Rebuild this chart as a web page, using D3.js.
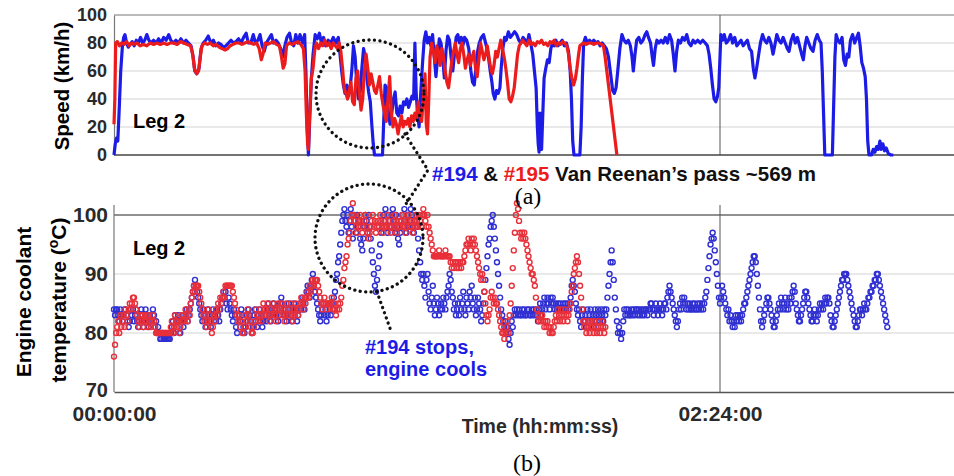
<!DOCTYPE html>
<html>
<head>
<meta charset="utf-8">
<script src="https://cdn.jsdelivr.net/npm/d3@7"></script>
<style>
  body { margin: 0; background: #fff; }
  svg { display: block; font-family: "Liberation Sans", Arial, sans-serif; }
</style>
</head>
<body>
<svg id="chart"></svg>
<script>
// ---- data (time in minutes from 00:00:00) ----
var speedTicks = [0, 20, 40, 60, 80, 100];
var tempTicks = [70, 80, 90, 100];
var timeTicks = [0, 144];
var timeTickLabels = ["00:00:00", "02:24:00"];

// speed of truck #194 (blue) and #195 (red): [minute, km/h]
var blueSpeed = [[0,0],[0.3,8],[0.6,12],[0.9,10],[1.2,30],[1.6,60],[2.0,78],[2.3,84],[2.6,86],[3.0,80],[3.4,77],[3.8,79],[4.3,81],[4.8,78],[5.3,82],[5.8,80],[6.3,84],[6.8,80],[7.3,82],[7.8,86],[8.3,82],[8.8,80],[9.4,82],[10,80],[10.6,83],[11.2,80],[11.8,84],[12.4,82],[13.0,86],[13.5,82],[14.1,80],[14.7,82],[15.3,80],[15.9,83],[16.5,80],[17.1,82],[17.7,80],[18.3,78],[18.8,70],[19.2,60],[19.7,58],[20.2,62],[20.7,76],[21.2,80],[21.8,82],[22.4,85],[23.0,80],[23.6,82],[24.2,78],[24.8,80],[25.4,79],[26.0,77],[26.6,78],[27.2,80],[27.8,82],[28.4,80],[29.0,81],[29.6,83],[30.2,80],[30.8,84],[31.4,87],[31.9,80],[32.5,80],[33.1,86],[33.6,80],[34.2,82],[34.7,86],[35.2,78],[35.7,74],[36.2,80],[36.8,83],[37.4,86],[37.9,80],[38.5,82],[39.0,80],[39.6,76],[40.1,70],[40.6,78],[41.1,84],[41.7,87],[42.2,80],[42.7,78],[43.2,86],[43.7,80],[44.2,86],[44.8,80],[45.3,86],[45.6,60],[45.9,20],[46.2,0],[46.5,25],[46.9,55],[47.3,72],[47.8,86],[48.3,83],[48.8,87],[49.3,80],[49.8,84],[50.3,78],[50.9,82],[51.5,80],[52.1,84],[52.7,80],[53.3,84],
  [53.7,72],[54.1,60],[54.5,50],[54.9,44],[55.3,50],[55.7,42],[56.1,48],[56.5,60],[56.9,78],[57.3,70],[57.7,50],[58.1,40],[58.5,45],[58.9,62],[59.3,76],[59.7,70],[60.1,55],[60.5,45],[60.9,38],[61.3,20],[61.6,8],[61.9,0],[62.5,0],[63.2,0],[63.8,0],[64.1,25],[64.4,50],[64.8,48],[65.2,30],[65.6,22],[66.0,30],[66.4,40],[66.8,45],[67.2,30],[67.6,28],[68.0,35],[68.4,30],[68.8,38],[69.2,36],[69.6,40],[70.0,34],[70.4,38],[70.8,42],[71.2,40],[71.5,80],[71.8,45],[72.1,30],[72.5,20],[72.9,45],[73.3,65],[73.7,82],[74.1,88],[74.5,80],[74.9,84],[75.3,78],[75.7,86],[76.1,70],[76.5,56],[76.9,70],[77.3,83],[77.7,80],[78.1,70],[78.5,55],[78.9,75],[79.3,85],[79.7,82],[80.1,70],[80.5,60],[80.9,72],[81.3,84],[81.7,86],[82.1,80],[82.5,84],[82.9,78],[83.3,84],[83.8,82],[84.3,76],[84.8,60],[85.2,52],[85.6,50],[86.0,62],[86.4,74],[86.8,80],[87.3,84],[87.8,86],[88.3,80],[88.8,74],[89.4,60],[89.8,52],[90.1,44],[90.5,40],[90.9,46],[91.3,44],[91.7,48],[92.0,62],[92.4,76],[92.8,84],[93.2,82],[93.7,88],[94.2,84],[94.7,86],[95.2,88],[95.7,86],[96.2,82],[96.7,80],[97.2,84],[97.7,82],[98.2,80],[98.6,86],[99.0,80],[99.5,72],[99.9,60],[100.3,48],[100.6,20],[100.8,8],[101.0,2],[101.2,30],[101.4,10],[101.6,4],[101.9,30],[102.2,55],[102.6,62],[103.0,68],[103.4,66],[103.8,76],[104.2,80],[104.6,78],[105.0,82],[105.5,78],[106.0,80],[106.5,82],[107.0,78],[107.5,80],[108.0,74],[108.4,60],[108.7,40],[109.0,10],[109.3,0],[110.0,0],[110.7,0],[111.0,20],[111.3,55],[111.6,80],[112.0,84],[112.5,80],[113.0,82],[113.5,80],[114.0,82],[114.5,80],[115.0,81],[115.5,78],[116.0,80],[116.5,78],[117.0,76],[117.5,70],[118.0,58],[118.5,46],[118.9,44],[119.3,48],[119.7,60],[120.2,76],[120.7,86],[121.2,82],[121.7,80],[122.2,82],[122.7,78],[123.1,70],[123.4,60],[123.8,72],[124.2,82],[124.7,84],[125.2,80],[125.7,82],[126.2,86],[126.6,88],[127.0,84],[127.5,80],[127.9,70],[128.2,64],[128.6,76],[129.0,82],[129.5,80],[130.0,82],[130.5,80],[131.0,84],[131.5,80],[132.0,86],[132.5,82],[132.9,72],[133.3,60],[133.7,74],[134.1,82],[134.6,80],[135.1,84],[135.6,82],[136.1,86],[136.6,80],[137.1,78],[137.6,82],[138.1,80],[138.7,82],[139.3,80],[139.9,82],[140.5,80],[141.0,78],[141.4,72],[141.8,62],[142.2,50],[142.6,40],[143.0,38],[143.4,42],[143.7,48],[144.0,70],[144.2,86],[144.6,82],[145.0,86],[145.5,80],[146.0,82],[146.5,86],[147.0,80],[147.5,84],[148.0,78],[148.5,80],[149.0,82],[149.5,78],[150.0,80],[150.5,82],[151.0,76],[151.5,74],[151.9,62],[152.3,55],[152.7,62],[153.1,70],[153.6,80],[154.1,86],[154.6,82],[155.1,80],[155.6,84],[156.1,80],[156.6,72],[157.0,78],[157.5,86],[158.0,82],[158.5,80],[159.0,84],[159.5,80],[160.0,76],[160.4,74],[160.9,82],[161.4,86],[161.9,80],[162.4,84],[162.9,78],[163.4,72],[163.8,68],[164.2,78],[164.6,84],[165.1,80],[165.6,76],[166.1,74],[166.6,82],[167.1,86],[167.6,82],[168.0,80],[168.3,60],[168.6,30],[168.9,0],[169.5,0],[170.2,0],[170.7,0],[171.0,35],[171.3,70],[171.6,86],[172.0,82],[172.5,80],[173.0,84],[173.4,68],[173.8,64],[174.2,72],[174.6,70],[175.0,82],[175.5,86],[176.0,80],[176.5,84],[176.9,87],[177.3,78],[177.7,66],[178.1,62],[178.5,56],[178.8,40],[179.1,10],[179.4,0],[180.0,0],[180.4,4],[180.8,2],[181.2,6],[181.6,4],[182.0,10],[182.3,4],[182.7,8],[183.1,3],[183.5,5],[184.0,1],[184.6,0],[185.2,0]];

var redSpeed = [[0,22],[0.2,40],[0.4,80],[0.8,81],[1.3,78],[1.8,80],[2.4,79],[3.0,81],[3.6,78],[4.2,80],[4.8,79],[5.5,80],[6.2,78],[7.0,79],[7.8,78],[8.6,80],[9.4,79],[10.2,80],[11.0,79],[11.8,80],[12.6,79],[13.4,80],[14.2,80],[15.0,79],[15.8,81],[16.6,80],[17.4,79],[18.2,78],[18.7,72],[19.1,62],[19.6,58],[20.1,60],[20.5,70],[20.9,78],[21.5,80],[22.2,79],[22.9,80],[23.6,78],[24.3,79],[25.0,77],[25.7,76],[26.4,75],[27.0,76],[27.6,78],[28.3,79],[29.0,80],[29.7,80],[30.4,79],[31.1,80],[31.8,81],[32.5,80],[33.2,79],[33.9,80],[34.5,76],[35.0,68],[35.4,72],[35.9,80],[36.5,79],[37.2,80],[37.9,81],[38.6,79],[39.3,78],[39.8,70],[40.2,62],[40.6,65],[41.0,78],[41.6,80],[42.3,79],[43.0,80],[43.7,81],[44.4,79],[45.0,76],[45.4,60],[45.7,30],[46.0,8],[46.2,4],[46.5,30],[46.9,55],[47.3,62],[47.7,75],[48.1,80],[48.6,76],[49.1,80],[49.6,78],[50.1,82],[50.6,78],[51.1,80],[51.6,76],[52.1,80],[52.6,78],[53.1,76],[53.5,80],[53.9,74],[54.3,62],[54.7,48],[55.1,44],[55.5,40],[55.9,46],[56.3,52],[56.7,38],[57.1,36],[57.5,55],[57.9,60],[58.3,45],[58.7,32],[59.1,40],[59.5,60],[59.9,72],[60.3,62],[60.7,50],[61.1,58],[61.5,52],[61.9,46],[62.3,44],[62.7,50],[63.1,56],[63.5,44],[63.9,36],[64.3,30],[64.7,24],[65.1,40],[65.5,56],[65.9,30],[66.3,20],[66.7,26],[67.1,22],[67.5,15],[67.9,22],[68.3,28],[68.7,20],[69.1,24],[69.5,22],[69.9,26],[70.3,20],[70.7,28],[71.1,24],[71.5,30],[71.9,26],[72.3,38],[72.7,28],[73.1,24],[73.5,40],[73.9,58],[74.2,22],[74.5,15],[74.8,40],[75.1,70],[75.5,80],[75.9,74],[76.3,66],[76.7,78],[77.1,72],[77.5,64],[77.9,76],[78.3,70],[78.7,60],[79.1,52],[79.5,48],[79.9,58],[80.3,68],[80.7,74],[81.1,80],[81.5,72],[81.9,66],[82.3,76],[82.7,80],[83.1,72],[83.5,62],[83.9,68],[84.3,72],[84.7,64],[85.1,70],[85.5,74],[85.9,62],[86.3,56],[86.7,68],[87.1,80],[87.5,74],[87.9,68],[88.3,72],[88.7,78],[89.1,70],[89.5,62],[89.9,58],[90.3,64],[90.7,74],[91.1,70],[91.5,76],[91.9,82],[92.3,76],[92.7,70],[93.1,62],[93.5,52],[93.9,40],[94.3,38],[94.7,42],[95.1,48],[95.5,60],[95.9,72],[96.3,78],[96.7,80],[97.1,82],[97.6,80],[98.1,78],[98.6,82],[99.1,79],[99.6,80],[100.1,78],[100.6,81],[101.1,80],[101.6,82],[102.1,79],[102.6,80],[103.1,78],[103.6,81],[104.1,80],[104.6,82],[105.1,78],[105.6,80],[106.1,79],[106.6,81],[107.1,80],[107.6,78],[108.0,72],[108.4,62],[108.8,55],[109.2,50],[109.6,54],[110.0,62],[110.4,72],[110.7,78],[111.1,79],[111.6,80],[112.2,79],[112.8,80],[113.4,80],[114.0,79],[114.6,80],[115.2,80],[115.8,79],[116.3,78],[116.7,70],[117.1,60],[117.5,50],[117.9,40],[118.3,30],[118.7,20],[119.1,10],[119.5,0]];

// engine coolant temperature (deg C), one reading every 0.25 min
var tempStepMin = 0.25;
var blueTemp = [
  84,83,84,84,83,82,84,83,82,83,84,84,83,82,81,82,84,83,84,82,83,84,82,81,
  82,83,84,83,81,82,84,83,82,81,83,82,82,84,83,81,82,80,81,80,79,79,80,79,
  79,79,79,79,79,79,80,81,82,80,83,82,81,83,82,80,82,83,81,82,83,84,82,83,
  84,85,86,87,88,89,88,87,86,85,84,83,82,84,83,81,82,84,83,82,81,83,84,82,
  83,82,84,83,82,84,85,86,87,86,87,85,84,86,85,84,83,82,84,83,81,80,82,83,
  82,84,83,81,80,81,83,82,84,83,82,80,81,83,84,82,81,83,84,82,83,81,82,84,
  83,82,84,85,83,82,84,83,85,84,83,84,82,83,85,86,85,84,83,84,82,83,85,84,
  83,82,84,85,83,84,82,83,84,85,84,86,85,84,86,87,88,87,86,88,89,90,88,87,
  86,85,84,83,82,83,84,85,83,84,82,83,85,84,83,85,84,86,87,89,90,92,93,95,
  97,99,100,101,99,98,100,97,99,101,98,96,100,99,97,100,98,99,96,95,94,96,98,100,
  99,97,100,98,96,94,92,90,88,87,89,91,93,95,97,98,100,99,101,98,97,100,99,98,
  100,101,99,97,100,98,96,95,97,99,100,98,101,99,97,100,98,99,101,100,98,97,99,100,
  98,96,94,92,90,89,90,88,86,89,90,87,85,84,86,88,85,83,84,86,85,83,84,85,
  84,86,85,84,86,87,88,90,89,87,86,84,85,83,84,85,83,86,84,85,87,84,83,86,
  85,84,87,86,88,85,84,86,83,84,86,85,84,82,83,85,87,89,91,93,95,96,98,99,
  100,98,96,94,92,90,88,86,84,83,82,81,82,80,81,79,78,80,82,81,83,84,83,84,
  83,84,83,83,84,83,84,83,83,84,84,83,83,84,83,84,83,84,83,82,84,85,83,84,
  85,86,84,85,86,85,84,86,85,86,85,84,85,84,85,84,85,84,84,85,84,85,84,85,
  84,85,86,88,89,88,87,85,84,83,84,82,81,83,84,82,83,81,84,82,83,84,82,83,
  81,84,83,82,84,83,82,84,83,82,84,83,84,86,88,90,92,94,92,89,86,84,82,80,
  81,80,79,80,82,84,83,84,83,84,83,83,84,83,84,83,84,84,83,84,83,84,83,84,
  83,84,84,83,84,84,85,85,84,83,84,85,84,83,84,85,84,83,84,85,85,84,86,87,
  88,87,86,85,84,83,82,81,82,84,85,84,86,85,86,85,84,85,84,85,84,84,85,84,
  85,84,84,85,84,85,84,85,84,85,86,87,89,91,93,95,96,97,96,94,92,90,88,86,
  85,86,88,87,86,85,84,83,84,82,83,82,81,82,81,83,82,83,82,83,82,83,84,85,
  85,86,87,88,89,90,91,92,93,93,92,90,88,86,84,82,81,82,83,84,85,86,86,85,
  84,83,82,81,81,82,83,84,85,84,86,85,84,85,86,84,85,84,86,85,86,87,88,87,
  85,84,83,82,82,83,84,85,86,87,87,86,85,84,83,82,82,83,84,83,82,83,84,85,
  84,85,84,85,86,85,86,86,85,83,82,81,81,82,83,84,85,86,87,88,89,89,90,90,
  90,89,88,87,86,85,84,83,82,81,81,82,83,84,84,83,84,85,84,84,85,86,86,87,
  87,88,88,89,89,90,90,89,88,87,86,85,84,83,82,81
];
var redTemp = [
  76,78,80,81,82,80,83,81,82,83,81,84,83,82,84,85,84,85,86,86,85,84,83,82,
  81,83,82,83,81,82,83,82,81,83,82,81,82,83,82,81,80,80,80,80,80,80,80,80,
  80,80,80,80,80,80,81,82,80,81,83,82,81,82,80,81,83,82,83,82,84,83,82,84,
  83,85,86,87,88,87,88,88,88,87,86,85,84,83,82,83,81,82,84,83,82,80,81,83,
  82,84,83,85,84,86,85,86,87,86,88,88,88,88,88,88,88,87,86,85,84,83,82,83,
  81,82,80,80,81,83,82,84,83,82,81,80,80,81,82,84,83,82,83,84,82,83,85,84,
  83,84,85,83,82,84,83,85,84,83,82,84,85,83,84,85,83,84,82,83,85,84,83,84,
  85,83,82,84,83,85,84,83,84,85,86,85,84,86,85,86,87,86,88,87,88,89,88,89,
  89,89,88,87,86,85,84,85,86,85,84,85,85,85,85,86,84,85,84,83,84,85,84,85,
  86,88,89,91,92,93,95,96,97,99,100,102,100,99,98,97,99,98,100,99,97,98,99,100,
  98,97,96,97,98,99,100,98,99,97,98,99,98,100,99,98,97,98,99,98,100,99,98,97,
  98,99,98,100,99,97,98,99,98,99,100,98,99,97,98,99,100,98,99,98,97,99,98,100,
  99,98,100,99,98,100,101,100,99,98,100,98,97,96,95,94,93,93,93,93,93,94,93,93,
  93,93,93,94,93,93,93,93,92,91,92,91,92,92,91,92,91,92,91,92,92,93,94,95,
  95,96,95,94,96,95,96,95,94,93,92,91,90,89,90,89,87,85,83,82,83,84,86,87,
  86,85,86,85,85,84,83,82,81,80,80,79,80,81,82,80,83,85,88,91,94,97,100,102,
  101,99,97,96,97,96,97,96,95,94,93,92,91,90,90,89,88,86,84,83,82,83,82,83,
  82,81,82,81,82,81,80,81,80,80,81,82,83,82,84,83,82,84,83,82,83,84,83,82,
  83,84,85,87,88,90,91,92,93,92,90,88,86,84,82,81,82,80,81,82,80,81,82,81,
  80,82,81,80,81,82,80,81,82,81,80,81
];

var blueColor = "#1c1ce6", redColor = "#ec1c1c";
var blueDot = "#2f2fd2", redDot = "#e8303a";

var svg = d3.select("#chart")
  .attr("width", 954)
  .attr("height", 476);

// scales shared by both panels
var x = d3.scaleLinear().domain([0, 199.6]).range([114, 954]);
var ySpeed = d3.scaleLinear().domain([0, 100]).range([155, 15]);
var yTemp = d3.scaleLinear().domain([70, 100]).range([392, 215]);

// ---------- (a) speed panel ----------
var gSpeed = svg.append("g");

gSpeed.selectAll(".grid")
  .data(speedTicks.filter(function(d) { return d > 0 && d < 100; }))
  .enter().append("line")
    .attr("x1", x(0)).attr("x2", 954)
    .attr("y1", function(d) { return ySpeed(d); })
    .attr("y2", function(d) { return ySpeed(d); })
    .attr("stroke", "#e2e2e2").attr("stroke-width", 1.5);

gSpeed.append("line")
  .attr("x1", x(0)).attr("x2", 954).attr("y1", ySpeed(100)).attr("y2", ySpeed(100))
  .attr("stroke", "#777").attr("stroke-width", 1.2);
gSpeed.append("line")
  .attr("x1", x(144)).attr("x2", x(144)).attr("y1", ySpeed(100)).attr("y2", ySpeed(0))
  .attr("stroke", "#555").attr("stroke-width", 1);

var ySpeedAxis = gSpeed.append("g")
  .attr("class", "axis-speed")
  .attr("transform", "translate(" + x(0) + ",0)")
  .call(d3.axisLeft(ySpeed).tickValues(speedTicks).tickSize(0).tickPadding(7));
ySpeedAxis.select(".domain").attr("stroke", "#777").attr("stroke-width", 1.2);

gSpeed.append("line")
  .attr("x1", x(0)).attr("x2", 954).attr("y1", ySpeed(0)).attr("y2", ySpeed(0))
  .attr("stroke", "#444").attr("stroke-width", 1.5);

var speedLine = d3.line()
  .x(function(d) { return x(d[0]); })
  .y(function(d) { return ySpeed(d[1]); });

gSpeed.append("path")
  .datum(blueSpeed)
  .attr("d", speedLine)
  .attr("fill", "none").attr("stroke", blueColor)
  .attr("stroke-width", 3.2).attr("stroke-linejoin", "round");
gSpeed.append("path")
  .datum(redSpeed)
  .attr("d", speedLine)
  .attr("fill", "none").attr("stroke", redColor)
  .attr("stroke-width", 3.2).attr("stroke-linejoin", "round");

// ---------- (b) temperature panel ----------
var gTemp = svg.append("g");

gTemp.selectAll(".grid")
  .data([80, 90])
  .enter().append("line")
    .attr("x1", x(0)).attr("x2", 954)
    .attr("y1", function(d) { return yTemp(d); })
    .attr("y2", function(d) { return yTemp(d); })
    .attr("stroke", "#e2e2e2").attr("stroke-width", 1.5);

gTemp.append("line")
  .attr("x1", x(0)).attr("x2", 954).attr("y1", yTemp(100)).attr("y2", yTemp(100))
  .attr("stroke", "#222").attr("stroke-width", 1.2);
gTemp.append("line")
  .attr("x1", x(144)).attr("x2", x(144)).attr("y1", yTemp(101.7)).attr("y2", yTemp(70))
  .attr("stroke", "#555").attr("stroke-width", 1);

var yTempAxis = gTemp.append("g")
  .attr("class", "axis-temp")
  .attr("transform", "translate(" + x(0) + ",0)")
  .call(d3.axisLeft(yTemp).tickValues(tempTicks).tickSize(0).tickPadding(6));
yTempAxis.select(".domain").remove();
gTemp.append("line")
  .attr("x1", x(0)).attr("x2", x(0)).attr("y1", yTemp(101.7)).attr("y2", yTemp(70))
  .attr("stroke", "#777").attr("stroke-width", 1.2);

var xAxis = gTemp.append("g")
  .attr("class", "axis-time")
  .attr("transform", "translate(0," + yTemp(70) + ")")
  .call(d3.axisBottom(x).tickValues(timeTicks).tickSize(0).tickPadding(14.5)
    .tickFormat(function(d, i) { return timeTickLabels[i]; }));
xAxis.select(".domain").attr("stroke", "#555").attr("stroke-width", 1.5);

// style tick labels
svg.selectAll(".tick text")
  .attr("fill", "#2a2a2a")
  .style("font-weight", "bold")
  .style("font-family", "'Liberation Sans', Arial, sans-serif");
ySpeedAxis.selectAll(".tick text").style("font-size", "18px");
yTempAxis.selectAll(".tick text").style("font-size", "21px");
// lowest label sits just above the time labels
yTempAxis.selectAll(".tick text").filter(function(d) { return d === 70; })
  .attr("dy", "0.2em").style("font-size", "20px");
xAxis.selectAll(".tick text").style("font-size", "21px");

function drawTemps(values, color) {
  gTemp.append("g").selectAll("circle")
    .data(values)
    .enter().append("circle")
      .attr("cx", function(d, i) { return x(i * tempStepMin); })
      .attr("cy", function(d) { return yTemp(d); })
      .attr("r", 2.5)
      .attr("fill", "none")
      .attr("stroke", color)
      .attr("stroke-width", 1.4);
}
drawTemps(blueTemp, blueDot);
drawTemps(redTemp, redDot);

// ---------- titles and annotations ----------
svg.append("text")
  .attr("transform", "translate(69,86) rotate(-90)")
  .attr("text-anchor", "middle")
  .style("font-size", "20.5px").style("font-weight", "bold")
  .text("Speed (km/h)");

svg.append("text")
  .attr("transform", "translate(31,302) rotate(-90)")
  .attr("text-anchor", "middle")
  .style("font-size", "21px").style("font-weight", "bold")
  .text("Engine coolant");
var tempTitle = svg.append("text")
  .attr("transform", "translate(66,300) rotate(-90)")
  .attr("text-anchor", "middle")
  .style("font-size", "21px").style("font-weight", "bold");
tempTitle.append("tspan").text("temperature (");
tempTitle.append("tspan").attr("baseline-shift", "super").style("font-size", "14px").text("o");
tempTitle.append("tspan").text("C)");

svg.append("text").attr("x", 133).attr("y", 128)
  .style("font-size", "20px").style("font-weight", "bold").text("Leg 2");
svg.append("text").attr("x", 133).attr("y", 255)
  .style("font-size", "20px").style("font-weight", "bold").text("Leg 2");

var passLabel = svg.append("text").attr("x", 432).attr("y", 181)
  .style("font-size", "20.5px").style("font-weight", "bold");
passLabel.append("tspan").attr("fill", blueColor).text("#194");
passLabel.append("tspan").attr("fill", "#111").text(" & ");
passLabel.append("tspan").attr("fill", redColor).text("#195");
passLabel.append("tspan").attr("fill", "#111").text(" Van Reenan\u2019s pass ~569 m");

svg.append("text").attr("x", 365).attr("y", 354)
  .attr("fill", blueColor)
  .style("font-size", "20px").style("font-weight", "bold").text("#194 stops,");
svg.append("text").attr("x", 365).attr("y", 376)
  .attr("fill", blueColor)
  .style("font-size", "20px").style("font-weight", "bold").text("engine cools");

svg.append("text").attr("x", 540).attr("y", 433)
  .attr("text-anchor", "middle")
  .attr("fill", "#2a2a2a")
  .style("font-size", "19.5px").style("font-weight", "bold").text("Time (hh:mm:ss)");

svg.append("text").attr("x", 528).attr("y", 204)
  .attr("text-anchor", "middle")
  .style("font-family", "'Liberation Serif', 'Times New Roman', serif")
  .style("font-size", "24px").text("(a)");
svg.append("text").attr("x", 527).attr("y", 471)
  .attr("text-anchor", "middle")
  .style("font-family", "'Liberation Serif', 'Times New Roman', serif")
  .style("font-size", "24px").text("(b)");

// dotted highlight circles and connectors
var dotted = svg.append("g")
  .attr("fill", "none").attr("stroke", "#111")
  .attr("stroke-width", 3.3).attr("stroke-linecap", "round")
  .attr("stroke-dasharray", "0.1,5.4");
dotted.append("circle").attr("cx", 370).attr("cy", 94).attr("r", 54);
dotted.append("circle").attr("cx", 369).attr("cy", 238).attr("r", 54);
dotted.append("polyline").attr("points", "405,134 428,170 404,207");
dotted.append("line").attr("x1", 377).attr("y1", 292).attr("x2", 391).attr("y2", 331);
</script>
</body>
</html>
